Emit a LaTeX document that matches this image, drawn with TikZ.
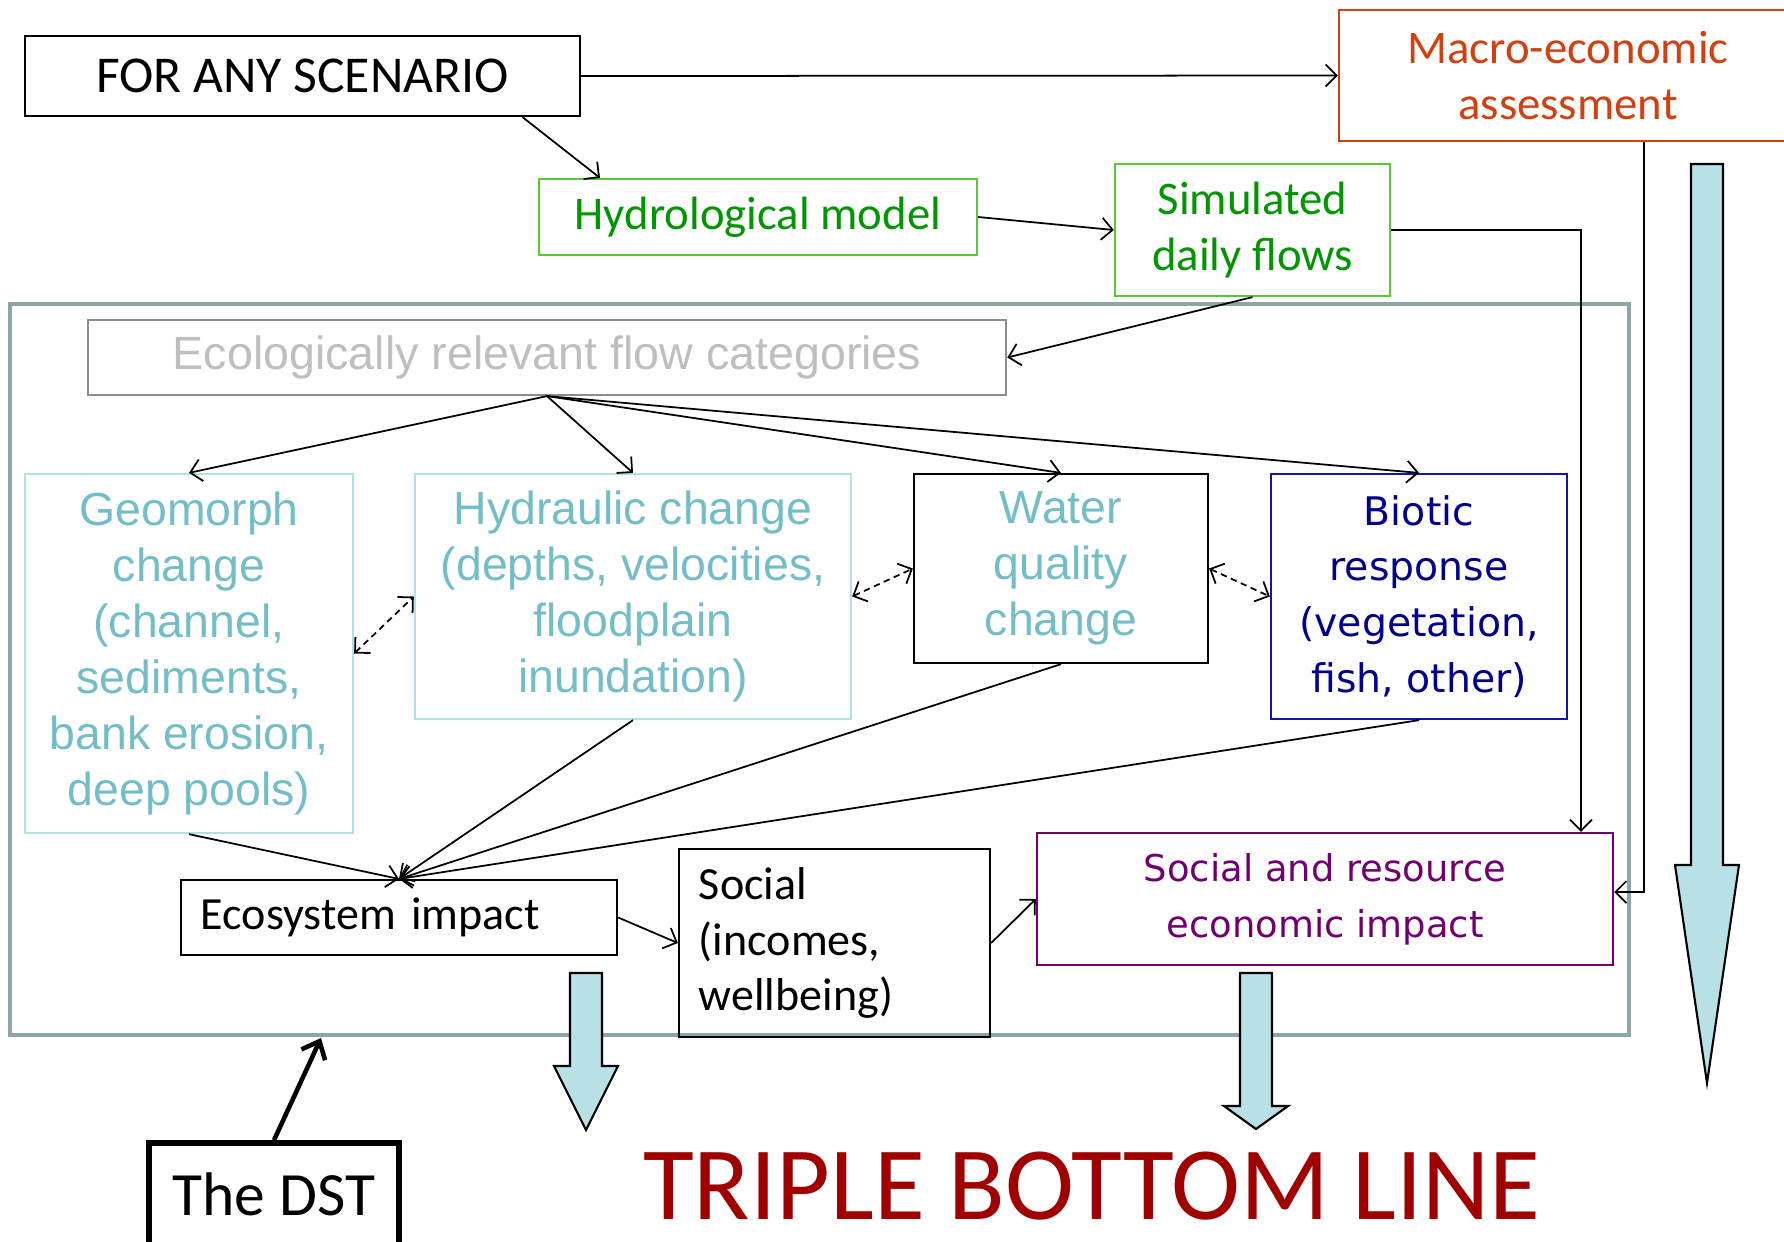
\documentclass[tikz,border=0pt]{standalone}
\usepackage{fontspec}
\setmainfont{Carlito}
\newfontfamily\arialfont{Liberation Sans}
\newfontfamily\verdanafont{DejaVu Sans}
\usetikzlibrary{arrows.meta,calc}
\definecolor{macrored}{RGB}{210,64,16}
\definecolor{greentext}{RGB}{0,150,0}
\definecolor{greenline}{RGB}{90,200,50}
\definecolor{tealtext}{RGB}{115,190,198}
\definecolor{tealline}{RGB}{180,224,228}
\definecolor{greyline}{RGB}{140,140,140}
\definecolor{greytext}{RGB}{190,190,190}
\definecolor{bluetext}{RGB}{0,0,145}
\definecolor{blueline}{RGB}{20,20,170}
\definecolor{socpurple}{RGB}{112,0,112}
\definecolor{frameteal}{RGB}{139,165,168}
\definecolor{arrowfill}{RGB}{185,224,228}
\definecolor{triplered}{RGB}{160,0,0}

\begin{document}
\begin{tikzpicture}[x=0.01cm, y=-0.01cm, line width=0.5pt, >={Straight Barb[length=1.1mm,width=2.2mm]}]
		\tikzset{box/.style={draw, line width=0.6pt, inner sep=0pt, align=center}}
		\tikzset{calbox/.style={box, font=\fontsize{13.3}{15.9}\selectfont}}
		\tikzset{greenbox/.style={calbox, draw=greenline, text=greentext}}
		\tikzset{tealbox/.style={box, draw=tealline, text=tealtext, font=\arialfont\fontsize{13.2}{15.9}\selectfont}}
		\tikzset{bluebox/.style={box, draw=blueline, text=bluetext, font=\verdanafont\fontsize{11.2}{15.9}\selectfont}}
		\tikzset{leftbox/.style={box, draw=black, align=left, inner xsep=0.2cm, font=\fontsize{13.1}{15.9}\selectfont}}
		\tikzset{bigarrow/.style={draw, fill=arrowfill, line width=0.6pt}}
		\useasboundingbox (0,0) rectangle (1784,1241);
		\draw[frameteal, line width=1.4pt] (10,304) rectangle (1629,1035);
		% top row
		\node[calbox, font=\fontsize{14.7}{16}\selectfont, minimum width=5.55cm, minimum height=0.8cm] (scen) at (302.5,76) {FOR ANY SCENARIO};
		\node[calbox, draw=macrored, text=macrored, minimum width=4.58cm, minimum height=1.31cm] (macro) at (1568,75.5) {Macro-economic\\assessment};
		\node[greenbox, minimum width=4.38cm, minimum height=0.76cm] (hydro) at (758,217) {Hydrological model};
		\node[greenbox, minimum width=2.75cm, minimum height=1.32cm] (sim) at (1252.5,230) {Simulated\\daily flows};
		% inside the DST
		\node[box, draw=greyline, text=greytext, font=\arialfont\fontsize{13.25}{15.9}\selectfont, minimum width=9.18cm, minimum height=0.75cm] (flowcat) at (547,357.5) {Ecologically relevant flow categories};
		\node[tealbox, minimum width=3.28cm, minimum height=3.59cm] (geo) at (189,653.5) {Geomorph\\change\\(channel,\\sediments,\\bank erosion,\\deep pools)};
		\node[tealbox, minimum width=4.36cm, minimum height=2.45cm] (hyd) at (633,596.5) {Hydraulic change\\(depths, velocities,\\floodplain\\inundation)};
		\node[tealbox, draw=black, minimum width=2.94cm, minimum height=1.89cm] (wq) at (1061,568.5) {Water\\quality\\change};
		\node[bluebox, minimum width=2.96cm, minimum height=2.45cm] (bio) at (1419,596.5) {Biotic\\response\\(vegetation,\\fish, other)};
		\node[leftbox, text width=3.96cm, minimum height=0.75cm] (esys) at (399,917.5) {Ecosystem impact};
		\node[leftbox, text width=2.71cm, minimum height=1.88cm] (soc) at (834.5,943) {Social\\(incomes,\\wellbeing)};
		\node[box, draw=socpurple, text=socpurple, font=\verdanafont\fontsize{10.5}{15.9}\selectfont, minimum width=5.76cm, minimum height=1.32cm] (ser) at (1325,899) {Social and resource\\economic impact};
		% bottom
		\node[box, line width=1.6pt, font=\fontsize{17.5}{20}\selectfont, minimum width=2.5cm, minimum height=1.02cm] (dst) at (274,1194) {The DST};
		\node[text=triplered, font=\fontsize{29.6}{34}\selectfont] (tbl) at (1092,1186) {TRIPLE BOTTOM LINE};
		% connectors
		\draw[->] (scen.east) -- (macro.west);
		\draw[->] ($(scen.south)+(220,0)$) -- ($(hydro.north)+(-158,0)$);
		\draw[->] (hydro.east) -- (sim.west);
		\draw[->] (sim.east) -| ($(ser.north)+(256,0)$);
		\draw[->] ($(macro.south)+(76,0)$) |- ($(ser.east)+(0,-7)$);
		\draw[->] (sim.south) -- (flowcat.east);
		\foreach \n in {geo,hyd,wq,bio}
			\draw[->] (flowcat.south) -- (\n.north);
		\draw[<->, dash pattern={on 1.8pt off 1.3pt}] (geo.east) -- (hyd.west);
		\draw[<->, dash pattern={on 1.8pt off 1.3pt}] (hyd.east) -- (wq.west);
		\draw[<->, dash pattern={on 1.8pt off 1.3pt}] (wq.east) -- (bio.west);
		\foreach \n in {geo,hyd,wq,bio}
			\draw[->] (\n.south) -- (esys.north);
		\draw[->] (esys.east) -- (soc.west);
		\draw[->] (soc.east) -- (ser.west);
		\coordinate (dsttip) at (321,1038);
		\draw[-{Straight Barb[length=1.5mm,width=2.6mm]}, line width=1.3pt] (dst.north) -- (dsttip);
		% big arrows
		\foreach \x/\t/\h/\b in {1707/164/865/1083, 586/973/1066/1130, 1256/973/1106/1129}
			\draw[bigarrow] (\x-16,\t) -- (\x+16,\t) -- (\x+16,\h) -- (\x+32,\h) -- (\x,\b) -- (\x-32,\h) -- (\x-16,\h) -- cycle;
	\end{tikzpicture}
\end{document}
